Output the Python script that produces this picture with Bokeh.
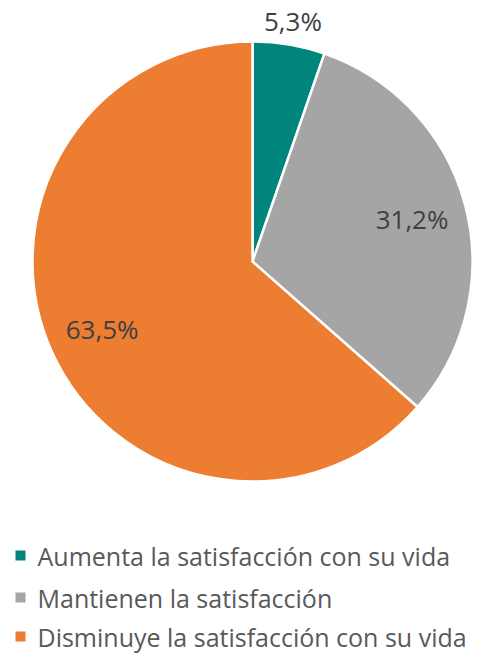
import math
from bokeh.plotting import figure
from bokeh.models import Range1d, ColumnDataSource
from bokeh.core.properties import value
from bokeh.embed import file_html
from bokeh.resources import INLINE

categories = ["Aumenta la satisfacción con su vida",
              "Mantienen la satisfacción",
              "Disminuye la satisfacción con su vida"]
values = [5.3, 31.2, 63.5]
labels = ["5,3%", "31,2%", "63,5%"]
colors = ["#00857D", "#A5A5A5", "#ED7D31"]

W, H = 482, 656
p = figure(width=W, height=H, output_backend="svg", toolbar_location=None,
           x_range=Range1d(0, W), y_range=Range1d(0, H), min_border=0)
p.axis.visible = False
p.grid.visible = False
p.outline_line_color = None
p.background_fill_color = "white"

# page pixel -> data (figure sits at the page's top-left corner)
def px(x):
    return x
def py(y):
    return H - y

cx, cy, R = px(252), py(261), 220
total = sum(values)
starts, ends, mids = [], [], []
a = math.pi / 2
for v in values:
    span = v / total * 2 * math.pi
    starts.append(a)
    ends.append(a - span)
    mids.append(a - span / 2)
    a -= span

src = ColumnDataSource(dict(start=starts, end=ends, color=colors))
p.wedge(x=cx, y=cy, radius=R, start_angle="start", end_angle="end",
        direction="clock", fill_color="color", line_color="white",
        line_width=2.5, source=src)

lab_r = [R * (1.11 if v < 10 else 0.75) for v in values]
lx = [cx + r * math.cos(m) for r, m in zip(lab_r, mids)]
ly = [cy + r * math.sin(m) for r, m in zip(lab_r, mids)]
p.text(x=lx, y=ly, text=labels, text_align="center", text_baseline="middle",
       text_font=value("Open Sans"), text_font_size="26px", text_color="#404040")

# legend
ly0 = [py(555), py(597), py(636)]
p.rect(x=[px(20)] * 3, y=ly0, width=10, height=10, fill_color=colors, line_color=None)
p.text(x=[px(37)] * 3, y=ly0, text=categories, text_align="left", text_baseline="middle",
       text_font=value("Open Sans"), text_font_size="25px", text_color="#595959")

open("out.html", "w").write(file_html(p, INLINE))
